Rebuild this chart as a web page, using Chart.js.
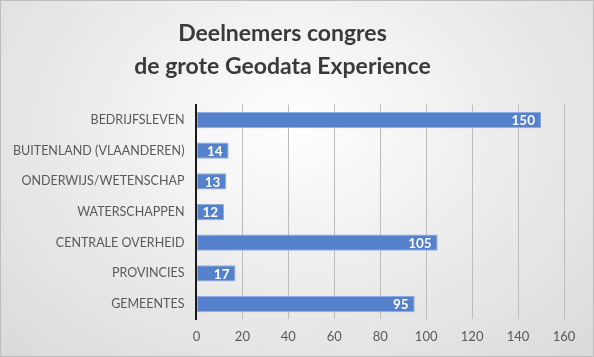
<!DOCTYPE html>
<html>
<head>
<meta charset="utf-8">
<script src="https://cdn.jsdelivr.net/npm/chart.js@4/dist/chart.umd.min.js"></script>
<style>
html,body{margin:0;padding:0;}
#wrap{width:594px;height:357px;box-sizing:border-box;border:1px solid #bdbdbd;
background:radial-gradient(ellipse 75% 95% at 50% 35%, #ffffff 0%, #efefef 40%, #d8d8d8 100%);}
canvas{display:block;}
</style>
</head>
<body>
<div id="wrap"><canvas id="c" width="592" height="355"></canvas></div>
<script>
const titleLines = ['Deelnemers congres', 'de grote Geodata Experience'];
const categories = ['BEDRIJFSLEVEN', 'BUITENLAND (VLAANDEREN)', 'ONDERWIJS/WETENSCHAP', 'WATERSCHAPPEN', 'CENTRALE OVERHEID', 'PROVINCIES', 'GEMEENTES'];
const values = [150, 14, 13, 12, 105, 17, 95];
const xTicks = [0, 20, 40, 60, 80, 100, 120, 140, 160];

const barLabels = {
  id: 'barLabels',
  afterDatasetsDraw(chart) {
    const ctx = chart.ctx;
    const meta = chart.getDatasetMeta(0);
    ctx.save();
    ctx.font = 'bold 13.5px Lato, "Open Sans", sans-serif';
    ctx.fillStyle = '#ffffff';
    ctx.textAlign = 'right';
    ctx.textBaseline = 'middle';
    meta.data.forEach((bar, i) => {
      ctx.fillText(String(values[i]), bar.x - 6, bar.y + 1);
    });
    ctx.restore();
  }
};

new Chart(document.getElementById('c'), {
  type: 'bar',
  data: {
    labels: categories,
    datasets: [{
      data: values,
      backgroundColor: '#5580cb',
      borderColor: '#8eaadf',
      borderWidth: 1,
      borderSkipped: false,
      categoryPercentage: 1,
      barPercentage: 0.53
    }]
  },
  options: {
    indexAxis: 'y',
    responsive: false,
    animation: false,
    layout: { padding: { left: 0, right: 29, bottom: 1, top: 0 } },
    plugins: {
      legend: { display: false },
      tooltip: { enabled: false },
      title: {
        display: true,
        text: titleLines,
        color: '#3a3a3a',
        font: { family: 'Lato, "Open Sans", sans-serif', size: 23, weight: 'bold', lineHeight: 1.45 },
        padding: { top: 16, bottom: 21 }
      }
    },
    scales: {
      x: {
        min: 0, max: 160,
        afterBuildTicks(axis) { axis.ticks = xTicks.map(v => ({ value: v })); },
        grid: { color: '#bcbcbc', lineWidth: 1, drawTicks: false },
        border: { display: false },
        ticks: { color: '#595959', font: { family: 'Lato, "Open Sans", sans-serif', size: 13 }, padding: 10 }
      },
      y: {
        grid: { display: false, drawTicks: false },
        border: { display: true, color: '#1a1a1a', width: 2 },
        ticks: { color: '#595959', font: { family: 'Lato, "Open Sans", sans-serif', size: 12.5 }, padding: 12 }
      }
    }
  },
  plugins: [barLabels]
});
</script>
</body>
</html>
